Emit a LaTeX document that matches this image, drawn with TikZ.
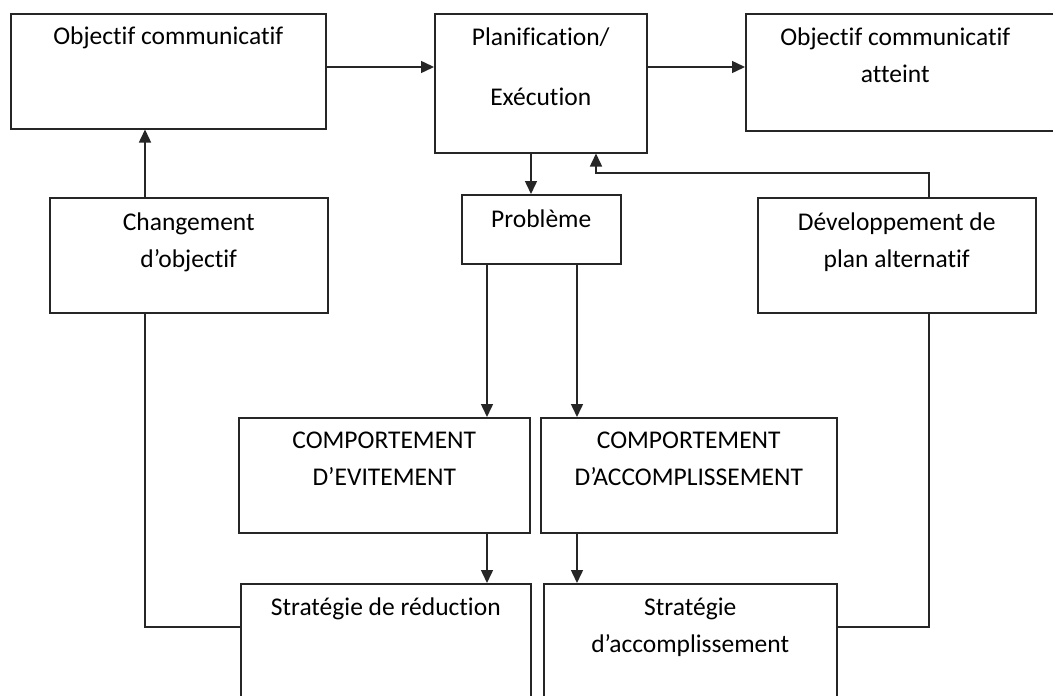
\documentclass[tikz,border=0pt]{standalone}
\usepackage{fontspec}
\setmainfont{Carlito}[Ligatures=NoCommon]
\usetikzlibrary{arrows.meta,positioning}

\begin{document}
\begin{tikzpicture}[x=1pt, y=-1pt,
        box/.style={rectangle, draw=black!85, line width=1.5pt, anchor=north west, inner sep=0pt},
        txt/.style={anchor=base, align=center, inner sep=0pt, font=\fontsize{25.5pt}{37pt}\selectfont},
        arrow/.style={line width=1.5pt, draw=black!85, -{Triangle[width=12pt,length=13pt]}},
        link/.style={line width=1.5pt, draw=black!85}
    ]

    % white page with the reference margins
    \fill[white] (0,0) rectangle (1053,696);
    \useasboundingbox (0,0) rectangle (1053,696);

    % top row
    \node[box, minimum width=315, minimum height=115] (obj) at (10,13) {};
    \node[box, minimum width=212, minimum height=139] (plan) at (434,13) {};
    \node[box, minimum width=315, minimum height=117] (reached) at (745,13) {};

    % second row
    \node[box, minimum width=278, minimum height=115] (change) at (49,197) {};
    \node[box, minimum width=159, minimum height=69] (problem) at (461,194) {};
    \node[box, minimum width=278, minimum height=115] (altplan) at (757,197) {};

    % behaviours
    \node[box, minimum width=291, minimum height=115] (avoid) at (238,417) {};
    \node[box, minimum width=296, minimum height=115] (achieve) at (540,417) {};

    % strategies (cut off at the bottom)
    \node[box, minimum width=290, minimum height=117] (reduce) at (240,583) {};
    \node[box, minimum width=293, minimum height=117] (fulfil) at (543,583) {};

    % texts at the top of each box (base = baseline of the last line)
    \node[txt] (obj-t) at ([yshift=-32pt]obj.north) {Objectif communicatif};
    \node[txt] (plan-t) at ([yshift=-92pt]plan.north) {Planification/\\[23pt]Exécution};
    \node[txt] (reached-t) at ([xshift=-8pt,yshift=-69pt]reached.north) {Objectif communicatif\\atteint};
    \node[txt] (change-t) at ([yshift=-70pt]change.north) {Changement\\d’objectif};
    \node[txt] (problem-t) at ([yshift=-33pt]problem.north) {Problème};
    \node[txt] (altplan-t) at ([yshift=-70pt]altplan.north) {Développement de\\plan alternatif};
    \node[txt] (avoid-t) at ([yshift=-68pt]avoid.north) {COMPORTEMENT\\D’EVITEMENT};
    \node[txt] (achieve-t) at ([yshift=-68pt]achieve.north) {COMPORTEMENT\\D’ACCOMPLISSEMENT};
    \node[txt] (reduce-t) at ([yshift=-32pt]reduce.north) {Stratégie de réduction};
    \node[txt] (fulfil-t) at ([yshift=-69pt]fulfil.north) {Stratégie\\d’accomplissement};

    % rows and columns the connectors run along
    \coordinate (top-row) at (0,67);
    \coordinate (low-row) at (0,627);
    \coordinate (left-col) at (145,0);
    \coordinate (right-col) at (929,0);
    \coordinate (down-col) at (531,0);
    \coordinate (col-a) at (487,0);
    \coordinate (col-b) at (577,0);
    \coordinate (back) at (596,173);

    % arrows
    \draw[arrow] (obj.east |- top-row) -- (plan.west |- top-row);
    \draw[arrow] (plan.east |- top-row) -- (reached.west |- top-row);
    \draw[arrow] (change.north -| left-col) -- (obj.south -| left-col);
    \draw[arrow] (plan.south -| down-col) -- (problem.north -| down-col);
    \draw[arrow] (altplan.north -| right-col) |- (back) -- (plan.south -| back);
    \draw[arrow] (problem.south -| col-a) -- (avoid.north -| col-a);
    \draw[arrow] (problem.south -| col-b) -- (achieve.north -| col-b);
    \draw[arrow] (avoid.south -| col-a) -- (reduce.north -| col-a);
    \draw[arrow] (achieve.south -| col-b) -- (fulfil.north -| col-b);

    % feedback lines without heads
    \draw[link] (reduce.west |- low-row) -| (change.south -| left-col);
    \draw[link] (fulfil.east |- low-row) -| (altplan.south -| right-col);

\end{tikzpicture}
\end{document}
